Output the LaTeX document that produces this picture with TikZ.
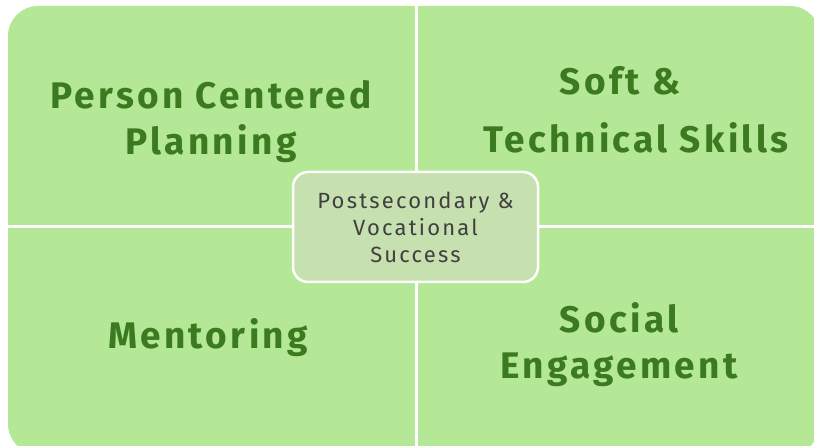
\documentclass[tikz,border=0pt]{standalone}
\usepackage{fontspec}
\setmainfont{Fira Sans}
\definecolor{quadfill}{HTML}{B4E796}
\definecolor{quadtext}{HTML}{3B7A1E}
\definecolor{hubfill}{HTML}{C6E0B0}
\definecolor{hubtext}{HTML}{404040}
\begin{document}
\begin{tikzpicture}[x=1pt,y=-1pt,
    quad/.style={text=quadtext,font=\bfseries\fontsize{37}{46}\selectfont\addfontfeature{LetterSpace=9},
        align=center,inner sep=0pt},
    hub/.style={draw=white,line width=2.5pt,fill=hubfill,rounded corners=15pt,
        minimum width=245pt,minimum height=110pt,text=hubtext,
        font=\fontsize{22}{27}\selectfont\addfontfeature{LetterSpace=10},align=center}]
    \useasboundingbox (0,0) rectangle (814,446);
    % matrix background with the two white gaps
    \fill [quadfill,rounded corners=30pt] (8,6) rectangle (820,454);
    \draw [white,line width=3pt] (416,0) -- (416,446);
    \draw [white,line width=3pt] (0,227) -- (814,227);
    % quadrant labels
    \node [quad] (planning) at (211,122) {Person Centered\\Planning};
    \node [quad] (skills) at (636,110) {Soft \&\hspace*{32pt}\\[12pt]Technical Skills};
    \node [quad] (mentoring) at (208,338) {Mentoring};
    \node [quad] (social) at (619,345) {Social\\Engagement};
    % centre box
    \node [hub] (success) at (415.5,227) {Postsecondary \&\\Vocational\\Success};
\end{tikzpicture}
\end{document}
